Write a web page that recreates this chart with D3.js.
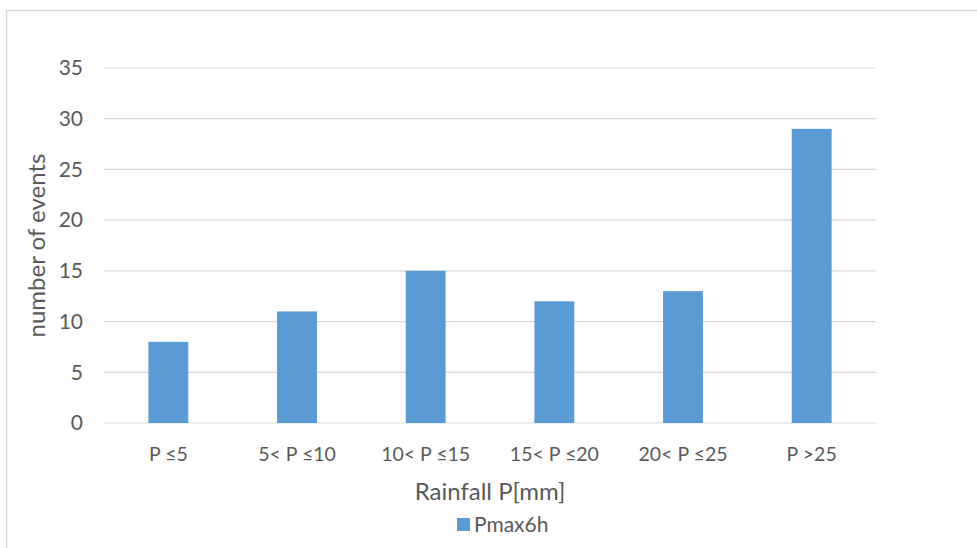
<!DOCTYPE html>
<html>
<head>
<meta charset="utf-8">
<script src="https://cdn.jsdelivr.net/npm/d3@7"></script>
<style>
  body { margin: 0; background: #fff; }
  svg text { font-family: Lato, "Open Sans", sans-serif; fill: #595959; }
</style>
</head>
<body>
<div id="chart"></div>
<script>
// data
var categories = ['P \u22645', '5< P \u226410', '10< P \u226415', '15< P \u226420', '20< P \u226425', 'P >25'];
var counts = [8, 11, 15, 12, 13, 29];
var yTicks = [0, 5, 10, 15, 20, 25, 30, 35];
var seriesName = 'Pmax6h';

var W = 977, H = 548;
var margin = {top: 68, right: 101, bottom: 125, left: 104};
var width = W - margin.left - margin.right,
    height = H - margin.top - margin.bottom;

var root = d3.select('#chart').append('svg')
    .attr('width', W)
    .attr('height', H);

// chart frame
root.append('rect')
    .attr('x', 6.5).attr('y', 10.5)
    .attr('width', W + 10).attr('height', H)
    .attr('fill', 'none')
    .attr('stroke', '#d9d9d9')
    .attr('stroke-width', 1.5);

var svg = root.append('g')
    .attr('transform', 'translate(' + margin.left + ',' + margin.top + ')');

var x = d3.scaleBand().domain(categories).range([0, width]).paddingInner(0.69).paddingOuter(0.345);
var y = d3.scaleLinear().domain([0, 35]).range([height, 0]);

// gridlines
svg.selectAll('.grid')
    .data(yTicks)
  .enter().append('line')
    .attr('x1', 0).attr('x2', width)
    .attr('y1', function(d) { return y(d); })
    .attr('y2', function(d) { return y(d); })
    .attr('stroke', '#d9d9d9')
    .attr('stroke-width', 1.2);

// bars
svg.selectAll('.bar')
    .data(counts)
  .enter().append('rect')
    .attr('class', 'bar')
    .attr('x', function(d, i) { return x(categories[i]); })
    .attr('width', x.bandwidth())
    .attr('y', function(d) { return y(d); })
    .attr('height', function(d) { return height - y(d); })
    .attr('fill', '#5b9bd5');

// y axis labels
var yAxis = svg.append('g')
    .call(d3.axisLeft(y).tickValues(yTicks).tickSize(0).tickPadding(21));
yAxis.select('.domain').remove();
yAxis.selectAll('text').style('font-size', '21px').attr('fill', '#595959');

// x axis labels
var xAxis = svg.append('g')
    .attr('transform', 'translate(0,' + height + ')')
    .call(d3.axisBottom(x).tickSize(0).tickPadding(0));
xAxis.select('.domain').remove();
xAxis.selectAll('text')
    .style('font-size', '19.5px')
    .attr('fill', '#595959')
    .attr('dy', null)
    .attr('y', 38);

// axis titles
root.append('text')
    .attr('transform', 'translate(45,' + (margin.top + height / 2) + ') rotate(-90)')
    .attr('text-anchor', 'middle')
    .style('font-size', '24px')
    .text('number of events');

root.append('text')
    .attr('x', margin.left + width / 2)
    .attr('y', 500)
    .attr('text-anchor', 'middle')
    .style('font-size', '24px')
    .text('Rainfall P[mm]');

// legend
root.append('rect')
    .attr('x', 457).attr('y', 518)
    .attr('width', 13).attr('height', 13)
    .attr('fill', '#5b9bd5');
root.append('text')
    .attr('x', 474).attr('y', 532)
    .style('font-size', '21px')
    .text(seriesName);
</script>
</body>
</html>
